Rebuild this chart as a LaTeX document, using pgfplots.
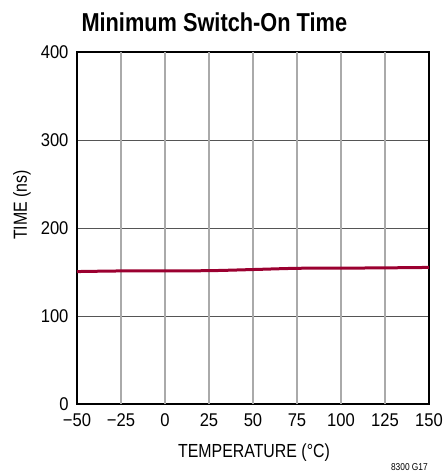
\documentclass[border=0pt]{standalone}
\usepackage{fontspec}
\setmainfont{Liberation Sans}[FakeStretch=0.84]
\newfontfamily\tickfont{Liberation Sans}[FakeStretch=0.9]
\usepackage{pgfplots}
\pgfplotsset{compat=1.18}
\definecolor{curve}{HTML}{9B0030}
\definecolor{vgrid}{HTML}{AAAAAA}
\definecolor{hgrid}{HTML}{555555}
\begin{document}
\begin{tikzpicture}
\begin{axis}[
  scale only axis, width=352bp, height=352bp,
  xmin=-50, xmax=150, ymin=0, ymax=400,
  xtick={-50,-25,0,25,50,75,100,125,150},
  xticklabels={−50,−25,0,25,50,75,100,125,150},
  ytick={0,100,200,300,400},
  yticklabels={0,100,200,300,400},
  tick style={draw=none},
  xtick style={draw=none}, ytick style={draw=none},
  axis line style={line width=1.3bp, black},
  extra x ticks={-25,0,25,50,75,100,125},
  extra x tick labels={},
  extra x tick style={grid=major, major grid style={vgrid, line width=1.4bp}},
  ymajorgrids, major grid style={hgrid, line width=0.7bp},
  ticklabel style={font=\tickfont\fontsize{18.5}{18.5}\selectfont},
  yticklabel style={xshift=-5bp},
  xticklabel style={yshift=-6bp},
]
\addplot[curve, line width=3bp, smooth] coordinates {
(-50,150.5) (-25,151.2) (0,151.4) (25,151.5) (50,152.8) (75,154.2) (100,154.4) (125,154.7) (150,155.2)
};
\end{axis}
\node[anchor=base west, font=\bfseries\fontsize{26}{26}\selectfont] at (1bp,372bp) {Minimum Switch-On Time};
\node[anchor=base, font=\fontsize{19}{19}\selectfont] at (177bp,-53bp) {TEMPERATURE (°C)};
\node[anchor=base, rotate=90, font=\fontsize{19}{19}\selectfont] at (-50bp,199bp) {TIME (ns)};
\node[anchor=base east, font=\fontsize{10}{10}\selectfont, inner sep=0pt] at (351bp,-66bp) {8300 G17};
\useasboundingbox (-77bp,-68bp) rectangle (363bp,404bp);
\end{tikzpicture}
\end{document}
